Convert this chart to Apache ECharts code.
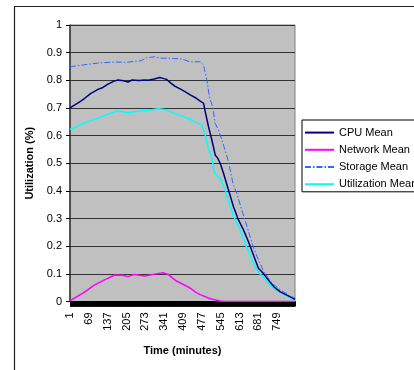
<!DOCTYPE html>
<html>
<head>
<meta charset="utf-8">
<script src="https://cdn.jsdelivr.net/npm/echarts@6/dist/echarts.min.js"></script>
<style>
html,body{margin:0;padding:0;background:#fff;}
#chart{width:414px;height:370px;}
</style>
</head>
<body>
<div id="chart"></div>
<script>
// Minutes shown as tick labels on the x axis
const xTickLabels = [1, 69, 137, 205, 273, 341, 409, 477, 545, 613, 681, 749];
const yTickLabels = [0, 0.1, 0.2, 0.3, 0.4, 0.5, 0.6, 0.7, 0.8, 0.9, 1];
const seriesNames = ['CPU Mean', 'Network Mean', 'Storage Mean', 'Utilization Mean'];
const lastMinute = 813;

// [minute, utilization] readings
const cpuMean = [[1,0.70],[20,0.712],[40,0.725],[54,0.735],[75,0.752],[102,0.767],[120,0.774],[138,0.786],[160,0.797],[174,0.801],[195,0.798],[210,0.794],[225,0.801],[250,0.799],[270,0.801],[283,0.80],[305,0.805],[325,0.81],[340,0.806],[349,0.804],[365,0.79],[379,0.779],[400,0.768],[416,0.759],[435,0.747],[457,0.735],[471,0.725],[483,0.717],[489,0.687],[501,0.632],[513,0.584],[525,0.53],[533,0.52],[543,0.50],[555,0.464],[573,0.403],[591,0.343],[609,0.295],[627,0.259],[645,0.216],[663,0.168],[681,0.12],[700,0.10],[712,0.084],[736,0.054],[760,0.035],[796,0.017],[813,0.008]];
const networkMean = [[1,0.003],[48,0.03],[90,0.06],[126,0.078],[162,0.096],[190,0.095],[210,0.09],[234,0.098],[271,0.092],[307,0.099],[337,0.104],[355,0.098],[385,0.074],[421,0.056],[435,0.048],[457,0.032],[471,0.025],[507,0.01],[543,0.002],[560,0],[813,0]];
const storageMean = [[1,0.849],[30,0.853],[66,0.858],[100,0.862],[138,0.865],[170,0.866],[204,0.865],[230,0.868],[258,0.871],[265,0.878],[277,0.882],[307,0.885],[325,0.88],[343,0.88],[375,0.879],[403,0.877],[435,0.867],[471,0.867],[483,0.855],[495,0.801],[504,0.741],[517,0.699],[525,0.644],[537,0.62],[555,0.566],[573,0.506],[589,0.427],[603,0.391],[621,0.331],[640,0.271],[658,0.21],[676,0.162],[700,0.108],[730,0.066],[760,0.042],[796,0.02],[813,0.012]];
const utilizationMean = [[1,0.623],[25,0.632],[54,0.647],[85,0.657],[114,0.668],[140,0.678],[168,0.689],[190,0.686],[210,0.683],[235,0.686],[258,0.689],[290,0.693],[319,0.697],[335,0.695],[349,0.693],[370,0.684],[391,0.675],[415,0.667],[435,0.659],[457,0.648],[477,0.638],[489,0.602],[501,0.554],[513,0.518],[521,0.47],[531,0.455],[543,0.446],[561,0.403],[579,0.343],[597,0.295],[615,0.259],[633,0.21],[658,0.15],[672,0.12],[686,0.10],[712,0.072],[742,0.044],[772,0.027],[813,0.005]];

// one tick per minute (Excel draws them so densely they form a solid band)
const minuteTicks = [];
for (let m = 1; m <= lastMinute; m++) minuteTicks.push(m);

const chart = echarts.init(document.getElementById('chart'), null, {renderer: 'canvas'});
const font = 'Liberation Sans, Arial, sans-serif';
chart.setOption({
  backgroundColor: '#ffffff',
  animation: false,
  textStyle: {fontFamily: font},
  graphic: [{
    type: 'rect', left: 12, top: 4, z: -1,
    shape: {width: 520, height: 520},
    style: {fill: 'none', stroke: '#222', lineWidth: 1.2}
  }],
  grid: {
    left: 70, right: 119, top: 25, bottom: 68.5,
    show: true, backgroundColor: '#C0C0C0', borderColor: '#808080', borderWidth: 1
  },
  legend: {
    orient: 'vertical', left: 302, top: 120,
    backgroundColor: '#fff', borderColor: '#000', borderWidth: 1,
    padding: [7, 4, 2, 2],
    itemWidth: 29, itemHeight: 14, itemGap: 6,
    itemStyle: {opacity: 0},
    textStyle: {fontFamily: font, fontSize: 11, color: '#000'},
    data: seriesNames
  },
  xAxis: {
    type: 'value', min: 1, max: lastMinute,
    name: 'Time (minutes)', nameLocation: 'middle', nameGap: 44,
    nameTextStyle: {fontFamily: font, fontSize: 11, fontWeight: 'bold', color: '#000'},
    axisLine: {show: true, lineStyle: {color: '#000', width: 1}},
    axisTick: {show: true, customValues: minuteTicks, length: 5, lineStyle: {color: '#000', width: 1}},
    axisLabel: {customValues: xTickLabels, rotate: 90, margin: 11, fontSize: 11, color: '#000', fontFamily: font},
    splitLine: {show: false}
  },
  yAxis: {
    type: 'value', min: 0, max: 1, interval: 0.1,
    name: 'Utilization (%)', nameLocation: 'middle', nameGap: 27, nameRotate: 90,
    nameTextStyle: {fontFamily: font, fontSize: 11, fontWeight: 'bold', color: '#000'},
    axisLine: {show: true, lineStyle: {color: '#333', width: 1.5}},
    axisTick: {show: true, length: 4, lineStyle: {color: '#000'}},
    axisLabel: {margin: 8, fontSize: 11, color: '#000', fontFamily: font,
      formatter: v => { const t = yTickLabels.find(x => Math.abs(x - v) < 1e-6); return t === undefined ? '' : String(t); }},
    splitLine: {show: true, lineStyle: {color: '#333', width: 1}}
  },
  series: [
    {name: seriesNames[0], type: 'line', data: cpuMean, symbol: 'none', lineStyle: {color: '#000080', width: 1.5}, itemStyle: {color: '#000080'}, z: 4},
    {name: seriesNames[1], type: 'line', data: networkMean, symbol: 'none', lineStyle: {color: '#FF00FF', width: 1.5}, itemStyle: {color: '#FF00FF'}, z: 3},
    {name: seriesNames[2], type: 'line', data: storageMean, symbol: 'none', lineStyle: {color: '#3366FF', width: 1, type: [6, 2, 1.5, 2]}, itemStyle: {color: '#3366FF'}, z: 5},
    {name: seriesNames[3], type: 'line', data: utilizationMean, symbol: 'none', lineStyle: {color: '#00FFFF', width: 1.5}, itemStyle: {color: '#00FFFF'}, z: 3}
  ]
});
</script>
</body>
</html>
